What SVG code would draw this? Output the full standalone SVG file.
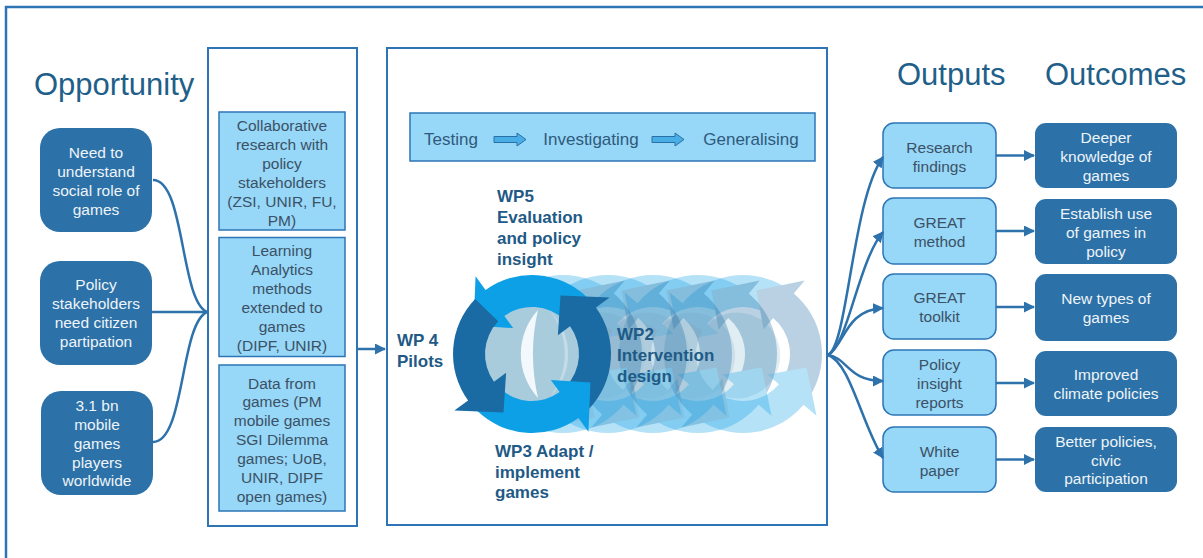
<svg xmlns="http://www.w3.org/2000/svg" xmlns:xlink="http://www.w3.org/1999/xlink" width="1203" height="558" viewBox="0 0 1203 558">
  <style>
    .frame{fill:none;stroke:#2E75B6;stroke-width:2.5}
    .panel{fill:#fff;stroke:#2E75B6;stroke-width:2}
    .title{font-family:"Liberation Sans",Arial,sans-serif;font-size:31px;fill:#1F5F89}
    .lbox{fill:#97D7F7;stroke:#2E75B6;stroke-width:1.5}
    .dbox{fill:#2C71A7}
    .t{font-family:"Liberation Sans",Arial,sans-serif;font-size:15.5px;fill:#3B5166;text-anchor:middle}
    .tw{fill:#EEF4F9}
    .hdr{font-family:"Liberation Sans",Arial,sans-serif;font-size:17px;fill:#2F5A7C;text-anchor:middle}
    .wp{font-family:"Liberation Sans",Arial,sans-serif;font-size:17px;font-weight:bold;fill:#1F5A86}
    .conn{fill:none;stroke:#2E72AC;stroke-width:2.5}
    .bright{fill:#0EA0E6}
    .dark{fill:#1A6BA3}
    .blk{fill:#4AAEE6;stroke:#2A70A8;stroke-width:1}
    .ghost{opacity:0.3}
  </style>
  <defs>
    <marker id="ah" markerUnits="userSpaceOnUse" markerWidth="11" markerHeight="11" refX="10" refY="5.5" orient="auto">
      <path d="M0,0 L11,5.5 L0,11 Z" fill="#2E72AC"/>
    </marker>
    <!-- four-arrow cycle ring, centred on the origin, counter-clockwise flow -->
    <g id="ring">
      <path class="bright" d="M54.88,-56.83 A79,79 0 0 0 -46.44,-63.91 L-56.43,-77.66 L-58.42,-28.49 L-18.81,-25.89 L-27.63,-38.02 A47,47 0 0 1 32.65,-33.81 Z"/>
      <path class="dark" d="M56.83,54.88 A79,79 0 0 0 63.91,-46.44 L77.66,-56.43 L28.49,-58.42 L25.89,-18.81 L38.02,-27.63 A47,47 0 0 1 33.81,32.65 Z"/>
      <path class="bright" d="M-54.88,56.83 A79,79 0 0 0 46.44,63.91 L56.43,77.66 L58.42,28.49 L18.81,25.89 L27.63,38.02 A47,47 0 0 1 -32.65,33.81 Z"/>
      <path class="dark" d="M-56.83,-54.88 A79,79 0 0 0 -63.91,46.44 L-77.66,56.43 L-28.49,58.42 L-25.89,18.81 L-38.02,27.63 A47,47 0 0 1 -33.81,-32.65 Z"/>
    </g>
    <!-- faded repeat: pale hub (leaving a light crescent on its right) under the ring -->
    <g id="ghost">
      <circle cx="-6" r="43" fill="#9CC4D8"/>
      <use xlink:href="#ring" href="#ring"/>
    </g>
  </defs>

  <rect width="1203" height="558" fill="#fff"/>
  <rect class="frame" x="6" y="7" width="1260" height="600"/>

  <!-- column titles -->
  <text class="title" x="34" y="95">Opportunity</text>
  <text class="title" x="221" y="95">Enablers</text>
  <text class="title" x="618" y="92" text-anchor="middle">Case study cycles</text>
  <text class="title" x="897" y="85">Outputs</text>
  <text class="title" x="1045" y="85">Outcomes</text>

  <!-- panels -->
  <rect class="panel" x="208" y="48" width="149" height="478"/>
  <rect class="panel" x="387" y="48" width="440" height="477"/>

  <!-- opportunity nodes -->
  <g id="opp-social-role">
    <rect class="dbox" x="40" y="128" width="112" height="104" rx="20"/>
    <text class="t tw" x="96"><tspan x="96" y="158">Need to</tspan><tspan x="96" y="177">understand</tspan><tspan x="96" y="196">social role of</tspan><tspan x="96" y="215">games</tspan></text>
  </g>
  <g id="opp-stakeholders">
    <rect class="dbox" x="40" y="261" width="112" height="104" rx="20"/>
    <text class="t tw" x="96"><tspan x="96" y="290">Policy</tspan><tspan x="96" y="309">stakeholders</tspan><tspan x="96" y="328">need citizen</tspan><tspan x="96" y="347">partipation</tspan></text>
  </g>
  <g id="opp-players">
    <rect class="dbox" x="41" y="391" width="112" height="104" rx="20"/>
    <text class="t tw" x="97"><tspan x="97" y="411">3.1 bn</tspan><tspan x="97" y="430">mobile</tspan><tspan x="97" y="449">games</tspan><tspan x="97" y="468">players</tspan><tspan x="97" y="486">worldwide</tspan></text>
  </g>

  <!-- enablers -->
  <g id="en-collab">
    <rect class="lbox" x="219" y="112" width="126" height="118"/>
    <text class="t" x="282"><tspan x="282" y="130.5">Collaborative</tspan><tspan x="282" y="149.5">research with</tspan><tspan x="282" y="168.5">policy</tspan><tspan x="282" y="187.5">stakeholders</tspan><tspan x="282" y="206.5">(ZSI, UNIR, FU,</tspan><tspan x="282" y="225.5">PM)</tspan></text>
  </g>
  <g id="en-analytics">
    <rect class="lbox" x="219" y="237.5" width="126" height="119"/>
    <text class="t" x="282"><tspan x="282" y="255.5">Learning</tspan><tspan x="282" y="274.5">Analytics</tspan><tspan x="282" y="293.5">methods</tspan><tspan x="282" y="312.5">extended to</tspan><tspan x="282" y="331.5">games</tspan><tspan x="282" y="350.5">(DIPF, UNIR)</tspan></text>
  </g>
  <g id="en-data">
    <rect class="lbox" x="219" y="365" width="126" height="146"/>
    <text class="t" x="282"><tspan x="282" y="388.5">Data from</tspan><tspan x="282" y="407.3">games (PM</tspan><tspan x="282" y="426.1">mobile games</tspan><tspan x="282" y="444.9">SGI Dilemma</tspan><tspan x="282" y="463.7">games; UoB,</tspan><tspan x="282" y="482.5">UNIR, DIPF</tspan><tspan x="282" y="501.5">open games)</tspan></text>
  </g>

  <!-- phase bar -->
  <g id="phases">
    <rect class="lbox" x="410" y="113" width="405" height="48"/>
    <text class="hdr" x="451" y="145">Testing</text>
    <text class="hdr" x="591" y="145">Investigating</text>
    <text class="hdr" x="751" y="145">Generalising</text>
    <polygon class="blk" points="494,136.5 517,136.5 517,133 526,139.5 517,146 517,142.5 494,142.5"/>
    <polygon class="blk" points="652,136.5 675,136.5 675,133 684,139.5 675,146 675,142.5 652,142.5"/>
  </g>

  <!-- cycle graphic: fading repeats behind the main ring -->
  <g id="cycles">
    <g class="ghost"><use xlink:href="#ghost" href="#ghost" transform="translate(743,354) rotate(-14)"/></g>
    <g class="ghost"><use xlink:href="#ghost" href="#ghost" transform="translate(698,354) rotate(-14)"/></g>
    <g class="ghost"><use xlink:href="#ghost" href="#ghost" transform="translate(653,354) rotate(-14)"/></g>
    <g class="ghost"><use xlink:href="#ghost" href="#ghost" transform="translate(608,354) rotate(-14)"/></g>
    <g class="ghost"><use xlink:href="#ghost" href="#ghost" transform="translate(563,354) rotate(-14)"/></g>
    <!-- main ring with its pale hub and light crescent -->
    <circle cx="532" cy="354" r="48" fill="#A9CCDD"/>
    <path d="M538,310 A65,65 0 0 0 538,398 A196,196 0 0 1 538,310 Z" fill="#F2F8FB"/>
    <path d="M550,311 A60,60 0 0 1 550,397 A70,70 0 0 0 550,311 Z" fill="#C3DCE8"/>
    <use xlink:href="#ring" href="#ring" transform="translate(532,354)"/>
  </g>

  <!-- work package labels -->
  <g id="wp-labels">
    <text class="wp" x="497"><tspan x="497" y="202">WP5</tspan><tspan x="497" y="223">Evaluation</tspan><tspan x="497" y="244">and policy</tspan><tspan x="497" y="265">insight</tspan></text>
    <text class="wp" x="397"><tspan x="397" y="346">WP 4</tspan><tspan x="397" y="367">Pilots</tspan></text>
    <text class="wp" x="617"><tspan x="617" y="340">WP2</tspan><tspan x="617" y="361">Intervention</tspan><tspan x="617" y="382">design</tspan></text>
    <text class="wp" x="495"><tspan x="495" y="457">WP3 Adapt /</tspan><tspan x="495" y="478">implement</tspan><tspan x="495" y="498">games</tspan></text>
  </g>

  <!-- outputs -->
  <g id="out-findings">
    <rect class="lbox" x="883" y="123" width="113" height="65" rx="11"/>
    <text class="t" x="939.5"><tspan x="939.5" y="152.5">Research</tspan><tspan x="939.5" y="171.5">findings</tspan></text>
  </g>
  <g id="out-method">
    <rect class="lbox" x="883" y="198" width="113" height="66" rx="11"/>
    <text class="t" x="939.5"><tspan x="939.5" y="227.5">GREAT</tspan><tspan x="939.5" y="246.5">method</tspan></text>
  </g>
  <g id="out-toolkit">
    <rect class="lbox" x="883" y="274" width="113" height="65" rx="11"/>
    <text class="t" x="939.5"><tspan x="939.5" y="302.5">GREAT</tspan><tspan x="939.5" y="321.5">toolkit</tspan></text>
  </g>
  <g id="out-reports">
    <rect class="lbox" x="883" y="350" width="113" height="65" rx="11"/>
    <text class="t" x="939.5"><tspan x="939.5" y="369.5">Policy</tspan><tspan x="939.5" y="388.5">insight</tspan><tspan x="939.5" y="407.5">reports</tspan></text>
  </g>
  <g id="out-whitepaper">
    <rect class="lbox" x="883" y="427" width="113" height="65" rx="11"/>
    <text class="t" x="939.5"><tspan x="939.5" y="456.5">White</tspan><tspan x="939.5" y="475.5">paper</tspan></text>
  </g>

  <!-- outcomes -->
  <g id="oc-knowledge">
    <rect class="dbox" x="1035" y="123" width="142" height="65" rx="11"/>
    <text class="t tw" x="1106"><tspan x="1106" y="143">Deeper</tspan><tspan x="1106" y="162">knowledge of</tspan><tspan x="1106" y="181">games</tspan></text>
  </g>
  <g id="oc-policy-use">
    <rect class="dbox" x="1035" y="199" width="142" height="65" rx="11"/>
    <text class="t tw" x="1106"><tspan x="1106" y="219">Establish use</tspan><tspan x="1106" y="238">of games in</tspan><tspan x="1106" y="257">policy</tspan></text>
  </g>
  <g id="oc-new-games">
    <rect class="dbox" x="1035" y="274" width="142" height="67" rx="11"/>
    <text class="t tw" x="1106"><tspan x="1106" y="304">New types of</tspan><tspan x="1106" y="323">games</tspan></text>
  </g>
  <g id="oc-climate">
    <rect class="dbox" x="1035" y="351" width="142" height="65" rx="11"/>
    <text class="t tw" x="1106"><tspan x="1106" y="380">Improved</tspan><tspan x="1106" y="399">climate policies</tspan></text>
  </g>
  <g id="oc-civic">
    <rect class="dbox" x="1035" y="427" width="142" height="65" rx="11"/>
    <text class="t tw" x="1106"><tspan x="1106" y="446.5">Better policies,</tspan><tspan x="1106" y="465.5">civic</tspan><tspan x="1106" y="484">participation</tspan></text>
  </g>

  <!-- connectors -->
  <g id="connectors">
    <path class="conn" d="M153,180 C185,180 180,300 207,312"/>
    <path class="conn" d="M152,312 L207,312"/>
    <path class="conn" d="M153,442 C185,442 180,324 207,312"/>
    <path class="conn" d="M358,349 L385,349" marker-end="url(#ah)"/>
    <path class="conn" d="M828,355 C848,345 852,200 883,157" marker-end="url(#ah)"/>
    <path class="conn" d="M828,355 C848,345 858,262 883,232" marker-end="url(#ah)"/>
    <path class="conn" d="M828,355 C845,345 845,310 883,308" marker-end="url(#ah)"/>
    <path class="conn" d="M828,355 C848,358 848,381 883,381" marker-end="url(#ah)"/>
    <path class="conn" d="M828,355 C850,362 862,425 883,458" marker-end="url(#ah)"/>
    <path class="conn" d="M996,155.5 L1034,155.5" marker-end="url(#ah)"/>
    <path class="conn" d="M996,231 L1034,231" marker-end="url(#ah)"/>
    <path class="conn" d="M996,307 L1034,307" marker-end="url(#ah)"/>
    <path class="conn" d="M996,383 L1034,383" marker-end="url(#ah)"/>
    <path class="conn" d="M996,459.5 L1034,459.5" marker-end="url(#ah)"/>
  </g>
</svg>
